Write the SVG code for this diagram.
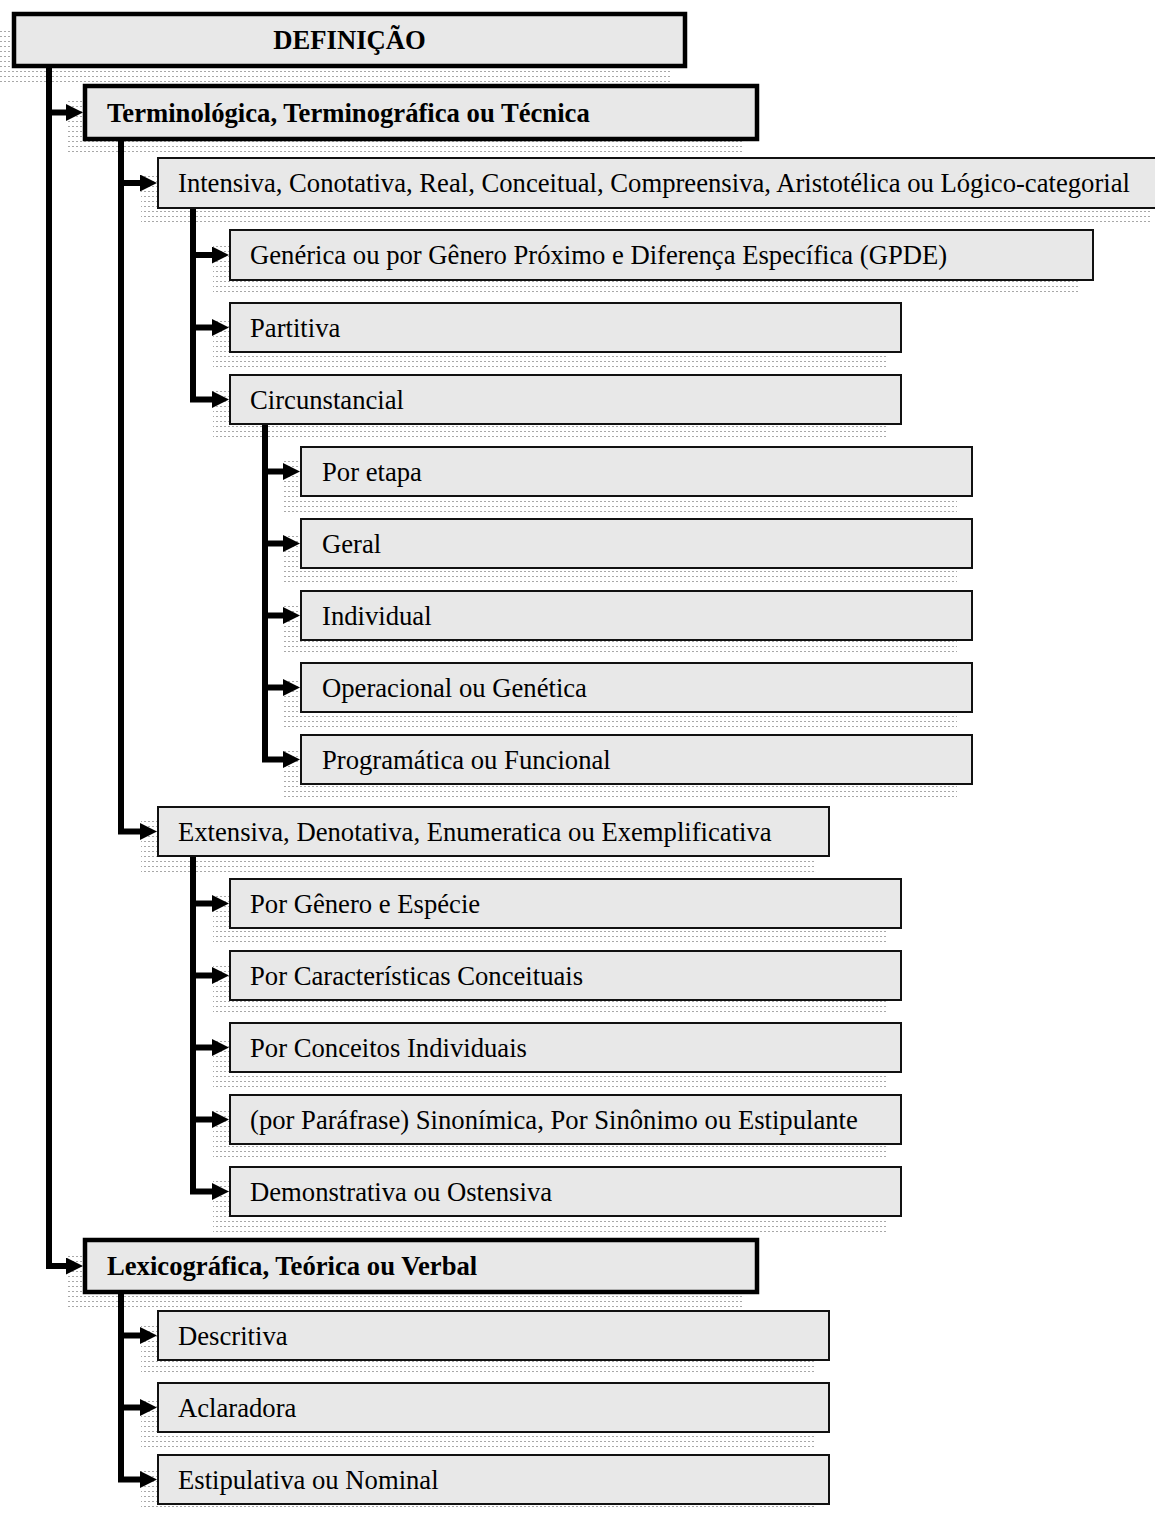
<svg xmlns="http://www.w3.org/2000/svg" width="1155" height="1513" viewBox="0 0 1155 1513">
<defs>
<pattern id="dots" width="4" height="5" patternUnits="userSpaceOnUse">
<rect x="0" y="1" width="2" height="1" fill="#a8a8a8"/>
</pattern>
<marker id="ah" viewBox="0 0 17 17" refX="0" refY="8.5" markerWidth="17" markerHeight="17" markerUnits="userSpaceOnUse" orient="auto">
<path d="M0,0 L17,8.5 L0,17 z" fill="#000"/>
</marker>
<style>
.sh{fill:url(#dots);}
.b{fill:#e8e8e8;stroke:#111;stroke-width:2;}
.bt{fill:#e8e8e8;stroke:#000;stroke-width:4.5;}
.t{font-family:"Liberation Serif","Times New Roman",serif;font-size:26.67px;fill:#000;}
.tb{font-family:"Liberation Serif","Times New Roman",serif;font-size:26.67px;font-weight:bold;fill:#000;}
.c{fill:none;stroke:#000;stroke-width:6;marker-end:url(#ah);}
</style>
</defs>
<rect width="1155" height="1513" fill="#fff"/>
<g id="shadows">
<rect class="sh" x="-4" y="27" width="675" height="56"/>
<rect class="sh" x="67" y="99" width="676" height="57"/>
<rect class="sh" x="141" y="172" width="1011" height="52"/>
<rect class="sh" x="213" y="244" width="865" height="52"/>
<rect class="sh" x="213" y="317" width="673" height="51"/>
<rect class="sh" x="213" y="389" width="673" height="51"/>
<rect class="sh" x="284" y="461" width="673" height="51"/>
<rect class="sh" x="284" y="533" width="673" height="51"/>
<rect class="sh" x="284" y="605" width="673" height="51"/>
<rect class="sh" x="284" y="677" width="673" height="51"/>
<rect class="sh" x="284" y="749" width="673" height="51"/>
<rect class="sh" x="141" y="821" width="673" height="51"/>
<rect class="sh" x="213" y="893" width="673" height="51"/>
<rect class="sh" x="213" y="965" width="673" height="51"/>
<rect class="sh" x="213" y="1037" width="673" height="51"/>
<rect class="sh" x="213" y="1109" width="673" height="51"/>
<rect class="sh" x="213" y="1181" width="673" height="51"/>
<rect class="sh" x="67" y="1253" width="676" height="56"/>
<rect class="sh" x="141" y="1325" width="673" height="51"/>
<rect class="sh" x="141" y="1397" width="673" height="51"/>
<rect class="sh" x="141" y="1469" width="673" height="40"/>
</g>
<g id="connectors">
<path class="c" d="M49,66 V1266 H66"/>
<path class="c" d="M49,112.5 H66"/>
<path class="c" d="M121,139 V831.5 H140"/>
<path class="c" d="M121,183 H140"/>
<path class="c" d="M193,208 V399.5 H212"/>
<path class="c" d="M193,255 H212"/>
<path class="c" d="M193,327.5 H212"/>
<path class="c" d="M265,424 V759.5 H283"/>
<path class="c" d="M265,471.5 H283"/>
<path class="c" d="M265,543.5 H283"/>
<path class="c" d="M265,615.5 H283"/>
<path class="c" d="M265,687.5 H283"/>
<path class="c" d="M193,856 V1191.5 H212"/>
<path class="c" d="M193,903.5 H212"/>
<path class="c" d="M193,975.5 H212"/>
<path class="c" d="M193,1047.5 H212"/>
<path class="c" d="M193,1119.5 H212"/>
<path class="c" d="M121,1292 V1479.5 H140"/>
<path class="c" d="M121,1335.5 H140"/>
<path class="c" d="M121,1407.5 H140"/>
</g>
<g id="n1"><rect class="bt" x="14" y="14" width="671" height="52"/><text class="tb" x="349.5" y="49" text-anchor="middle">DEFINIÇÃO</text></g>
<g id="n2"><rect class="bt" x="85" y="86" width="672" height="53"/><text class="tb" x="107" y="121.5">Terminológica, Terminográfica ou Técnica</text></g>
<g id="n3"><rect class="b" x="158" y="158" width="1009" height="50"/><text class="t" x="178" y="192">Intensiva, Conotativa, Real, Conceitual, Compreensiva, Aristotélica ou Lógico-categorial</text></g>
<g id="n4"><rect class="b" x="230" y="230" width="863" height="50"/><text class="t" x="250" y="264">Genérica ou por Gênero Próximo e Diferença Específica (GPDE)</text></g>
<g id="n5"><rect class="b" x="230" y="303" width="671" height="49"/><text class="t" x="250" y="336.5">Partitiva</text></g>
<g id="n6"><rect class="b" x="230" y="375" width="671" height="49"/><text class="t" x="250" y="408.5">Circunstancial</text></g>
<g id="n7"><rect class="b" x="301" y="447" width="671" height="49"/><text class="t" x="322" y="480.5">Por etapa</text></g>
<g id="n8"><rect class="b" x="301" y="519" width="671" height="49"/><text class="t" x="322" y="552.5">Geral</text></g>
<g id="n9"><rect class="b" x="301" y="591" width="671" height="49"/><text class="t" x="322" y="624.5">Individual</text></g>
<g id="n10"><rect class="b" x="301" y="663" width="671" height="49"/><text class="t" x="322" y="696.5">Operacional ou Genética</text></g>
<g id="n11"><rect class="b" x="301" y="735" width="671" height="49"/><text class="t" x="322" y="768.5">Programática ou Funcional</text></g>
<g id="n12"><rect class="b" x="158" y="807" width="671" height="49"/><text class="t" x="178" y="840.5">Extensiva, Denotativa, Enumeratica ou Exemplificativa</text></g>
<g id="n13"><rect class="b" x="230" y="879" width="671" height="49"/><text class="t" x="250" y="912.5">Por Gênero e Espécie</text></g>
<g id="n14"><rect class="b" x="230" y="951" width="671" height="49"/><text class="t" x="250" y="984.5">Por Características Conceituais</text></g>
<g id="n15"><rect class="b" x="230" y="1023" width="671" height="49"/><text class="t" x="250" y="1056.5">Por Conceitos Individuais</text></g>
<g id="n16"><rect class="b" x="230" y="1095" width="671" height="49"/><text class="t" x="250" y="1128.5">(por Paráfrase) Sinonímica, Por Sinônimo ou Estipulante</text></g>
<g id="n17"><rect class="b" x="230" y="1167" width="671" height="49"/><text class="t" x="250" y="1200.5">Demonstrativa ou Ostensiva</text></g>
<g id="n18"><rect class="bt" x="85" y="1240" width="672" height="52"/><text class="tb" x="107" y="1275">Lexicográfica, Teórica ou Verbal</text></g>
<g id="n19"><rect class="b" x="158" y="1311" width="671" height="49"/><text class="t" x="178" y="1344.5">Descritiva</text></g>
<g id="n20"><rect class="b" x="158" y="1383" width="671" height="49"/><text class="t" x="178" y="1416.5">Aclaradora</text></g>
<g id="n21"><rect class="b" x="158" y="1455" width="671" height="49"/><text class="t" x="178" y="1488.5">Estipulativa ou Nominal</text></g>
</svg>
